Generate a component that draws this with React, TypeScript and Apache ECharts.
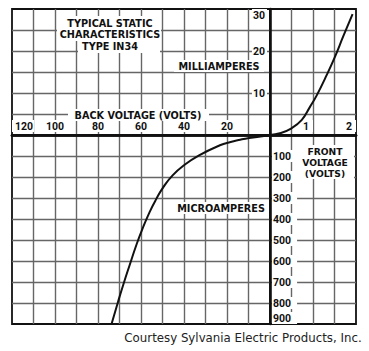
import React, { useEffect, useRef } from 'react';
import * as echarts from 'echarts';

// ---- data ----
const backVoltageTicks = [20, 40, 60, 80, 100, 120];
const frontVoltageTicks = [1, 2];
const milliampTicks = [10, 20, 30];
const microampTicks = [100, 200, 300, 400, 500, 600, 700, 800, 900];

const reverseVolts = [0, 2.8, 9.7, 14.6, 18.3, 23.3, 33.0, 40.0, 45.3, 49.6, 52.8, 56.0, 59.6, 62.2, 65.3, 68.1, 70.7, 73.7];
const reverseMicroamps = [0, 5, 14, 24, 33, 49, 97, 144, 192, 248, 303, 367, 454, 525, 620, 708, 795, 900];
const forwardVolts = [0, 0.23, 0.5, 0.74, 0.93, 1.09, 1.32, 1.51, 1.7, 1.92];
const forwardMilliamps = [0, 0.4, 1.6, 3.6, 6.7, 9.5, 14.3, 18.6, 23.4, 28.8];

const titleLines = ['TYPICAL STATIC', 'CHARACTERISTICS', 'TYPE IN34'];
const frontLabelLines = ['FRONT', 'VOLTAGE', '(VOLTS)'];

const FONT = 'Roboto, "Liberation Sans", sans-serif';
const CAPS_FONT = '"DejaVu Sans", Verdana, sans-serif';
const INK = '#111';

export default function App() {
  const ref = useRef<HTMLDivElement>(null);
  useEffect(() => {
    if (!ref.current) return;
    const chart = echarts.init(ref.current, undefined, { renderer: 'svg' });

    const gridLine = {
      show: true,
      showMinLine: false,
      showMaxLine: false,
      lineStyle: { color: '#666', width: 1.4 },
    };
    const centerLine = { show: true, onZero: false, lineStyle: { color: INK, width: 2.6 } };
    const noLine = { show: false };
    const noTick = { show: false };
    const richBox = (padding: number[]) => ({
      t: {
        color: INK,
        fontFamily: FONT,
        fontWeight: 'bold',
        fontSize: 10.5,
        backgroundColor: '#fff',
        padding,
      },
    });
    const gridBase = { show: true, borderColor: INK, borderWidth: 1.8, backgroundColor: 'transparent' };
    const capsStyle = (text: string) => ({
      text,
      fill: INK,
      font: `bold 9.7px ${CAPS_FONT}`,
      textAlign: 'center',
      textVerticalAlign: 'middle',
    });

    const option: any = {
      animation: false,
      backgroundColor: '#fff',
      grid: [
        { ...gridBase, left: 12, top: 9, width: 258, height: 126 },
        { ...gridBase, left: 270, top: 9, width: 86, height: 126 },
        { ...gridBase, left: 12, top: 135, width: 258, height: 189 },
        { ...gridBase, left: 270, top: 135, width: 86, height: 189 },
      ],
      xAxis: [
        {
          gridIndex: 0, type: 'value', min: 0, max: 120, interval: 10, inverse: true, position: 'bottom',
          axisLine: centerLine, axisTick: noTick, splitLine: gridLine,
          axisLabel: {
            inside: true, margin: 3, alignMaxLabel: 'left',
            formatter: (v: number) =>
              backVoltageTicks.includes(v) ? (v === 120 ? `{l|${v}}` : `{t|${v}}`) : '',
            rich: {
              ...richBox([1, 1, 0, 1]),
              l: { color: INK, fontFamily: FONT, fontWeight: 'bold', fontSize: 10.5, backgroundColor: '#fff', padding: [1, 1, 0, 3] },
            },
          },
        },
        {
          gridIndex: 1, type: 'value', min: 0, max: 2, interval: 0.5, position: 'bottom',
          axisLine: centerLine, axisTick: noTick, splitLine: gridLine,
          axisLabel: {
            inside: true, margin: 3, align: 'right',
            formatter: (v: number) => (frontVoltageTicks.includes(v) ? `{t|${v}}` : ''),
            rich: richBox([1, 4, 0, 1]),
          },
        },
        {
          gridIndex: 2, type: 'value', min: 0, max: 120, interval: 10, inverse: true, position: 'top',
          axisLine: centerLine, axisTick: noTick, axisLabel: { show: false }, splitLine: gridLine,
        },
        {
          gridIndex: 3, type: 'value', min: 0, max: 2, interval: 0.5, position: 'top',
          axisLine: centerLine, axisTick: noTick, axisLabel: { show: false }, splitLine: gridLine,
        },
      ],
      yAxis: [
        {
          gridIndex: 0, type: 'value', min: 0, max: 30, interval: 5, position: 'left',
          axisLine: noLine, axisTick: noTick, axisLabel: { show: false }, splitLine: gridLine,
        },
        {
          gridIndex: 1, type: 'value', min: 0, max: 30, interval: 5, position: 'left', z: 1,
          axisLine: centerLine, axisTick: noTick, splitLine: gridLine,
          axisLabel: {
            margin: 3, verticalAlignMaxLabel: 'top',
            formatter: (v: number) => (milliampTicks.includes(v) ? `{t|${v}}` : ''),
            rich: richBox([1, 2, 0, 1]),
          },
        },
        {
          gridIndex: 2, type: 'value', min: 0, max: 900, interval: 100, inverse: true, position: 'left',
          axisLine: noLine, axisTick: noTick, axisLabel: { show: false }, splitLine: gridLine,
        },
        {
          gridIndex: 3, type: 'value', min: 0, max: 900, interval: 100, inverse: true, position: 'left', z: 1,
          axisLine: centerLine, axisTick: noTick, splitLine: gridLine,
          axisLabel: {
            inside: true, margin: 2, verticalAlignMaxLabel: 'bottom',
            formatter: (v: number) => (microampTicks.includes(v) ? `{t|${v}}` : ''),
            rich: richBox([1, 6, 0, 1]),
          },
        },
      ],
      series: [
        {
          type: 'line', xAxisIndex: 2, yAxisIndex: 2, showSymbol: false, smooth: 0.5,
          lineStyle: { color: INK, width: 2 }, z: 3,
          data: reverseVolts.map((v, i) => [v, reverseMicroamps[i]]),
        },
        {
          type: 'line', xAxisIndex: 1, yAxisIndex: 1, showSymbol: false, smooth: 0.45,
          lineStyle: { color: INK, width: 2 }, z: 3,
          data: forwardVolts.map((v, i) => [v, forwardMilliamps[i]]),
        },
      ],
      graphic: [
        { type: 'rect', z: 5, shape: { x: 57, y: 16, width: 104, height: 25 }, style: { fill: '#fff' } },
        { type: 'rect', z: 5, shape: { x: 78, y: 41, width: 82, height: 12 }, style: { fill: '#fff' } },
        ...titleLines.map((t, i) => ({
          type: 'text', z: 6, x: 110, y: 23 + i * 11.8, style: capsStyle(t),
        })),
        { type: 'rect', z: 5, shape: { x: 68, y: 109, width: 141, height: 12 }, style: { fill: '#fff' } },
        { type: 'text', z: 6, x: 138, y: 115, style: capsStyle('BACK VOLTAGE (VOLTS)') },
        { type: 'rect', z: 5, shape: { x: 174, y: 60, width: 90, height: 12 }, style: { fill: '#fff' } },
        { type: 'text', z: 6, x: 219, y: 66, style: capsStyle('MILLIAMPERES') },
        { type: 'rect', z: 5, shape: { x: 173, y: 202, width: 94, height: 12 }, style: { fill: '#fff' } },
        { type: 'text', z: 6, x: 221, y: 208, style: capsStyle('MICROAMPERES') },
        { type: 'rect', z: 5, shape: { x: 296, y: 145, width: 58, height: 34 }, style: { fill: '#fff' } },
        ...frontLabelLines.map((t, i) => ({
          type: 'text', z: 6, x: 325, y: 151.5 + i * 10.8, style: { ...capsStyle(t), font: `bold 9.2px ${CAPS_FONT}` },
        })),
        {
          type: 'text', z: 6, x: 243, y: 338,
          style: { text: 'Courtesy Sylvania Electric Products, Inc.', fill: '#222', font: `11.8px ${CAPS_FONT}`, textAlign: 'center', textVerticalAlign: 'middle' },
        },
      ],
    };
    chart.setOption(option);
    return () => chart.dispose();
  }, []);
  return (
    <div
      ref={ref}
      style={{ position: 'absolute', left: 0, top: 0, width: 369, height: 351, background: '#fff' }}
    />
  );
}
